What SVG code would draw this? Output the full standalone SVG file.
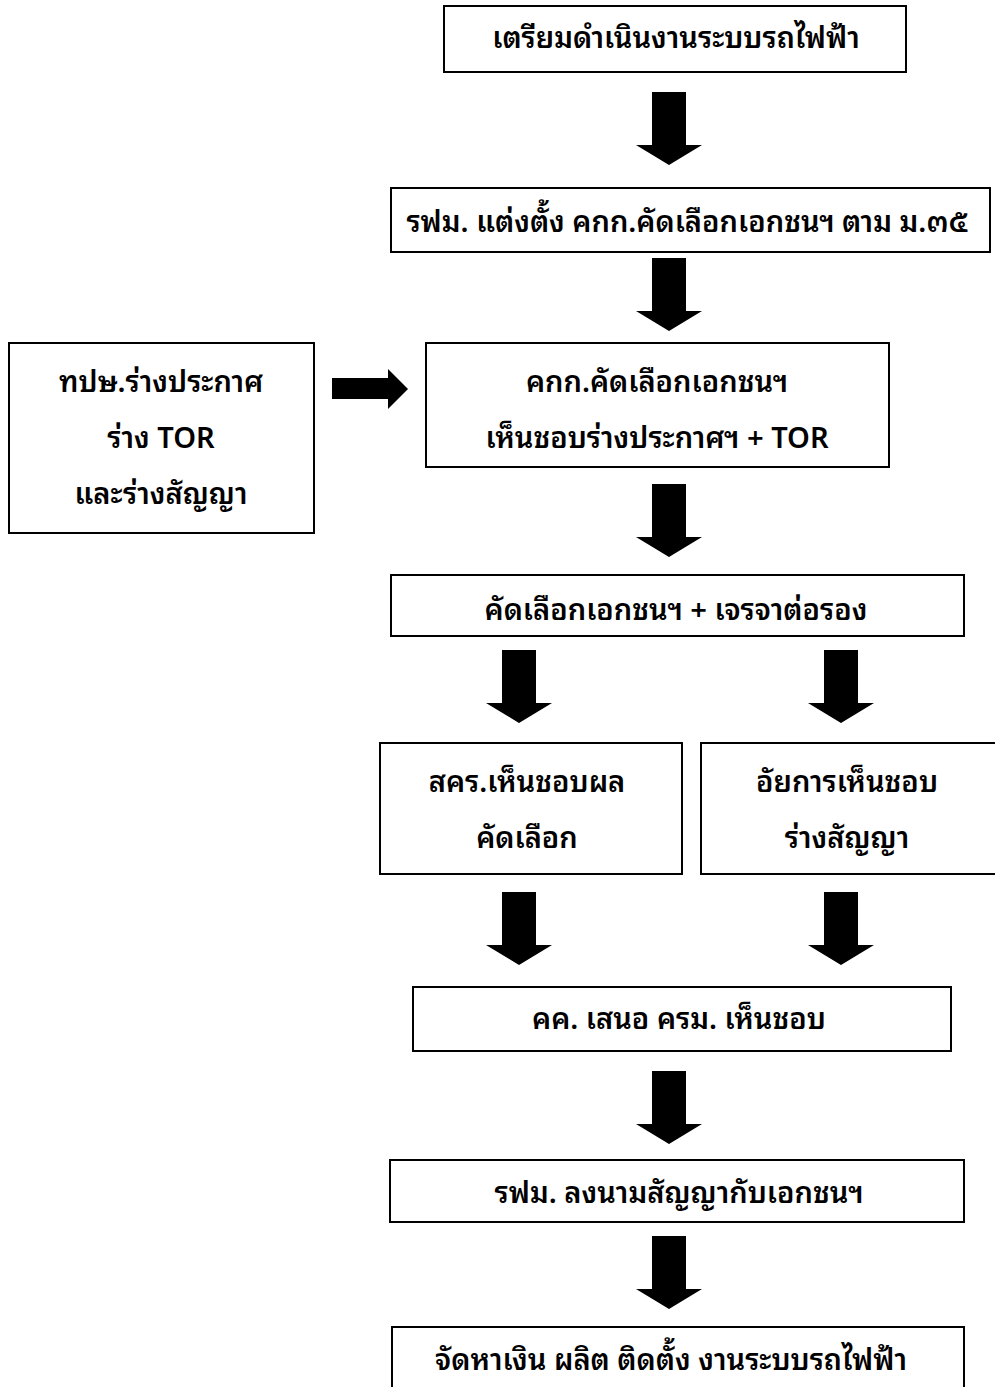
<svg xmlns="http://www.w3.org/2000/svg" xmlns:xlink="http://www.w3.org/1999/xlink" width="995" height="1387" viewBox="0 0 995 1387">
<style>
.box{fill:#fff;stroke:#000;stroke-width:2}
.t{font-family:"Noto Sans Thai Looped","Loma","Garuda","Tahoma","Noto Sans Thai","Noto Sans",sans-serif;font-size:29px;font-weight:600;fill:#000;text-anchor:middle}
.arr{fill:#000}
</style>
<defs>
<path id="down" d="M-17,0 H17 V53 H33 L0,73 L-33,53 H-17 Z"/>
</defs>
<rect width="995" height="1387" fill="#fff"/>
<g id="connectors" class="arr">
<use xlink:href="#down" href="#down" transform="translate(669,92)"/>
<use xlink:href="#down" href="#down" transform="translate(669,258)"/>
<use xlink:href="#down" href="#down" transform="translate(669,484)"/>
<use xlink:href="#down" href="#down" transform="translate(519,650)"/>
<use xlink:href="#down" href="#down" transform="translate(841,650)"/>
<use xlink:href="#down" href="#down" transform="translate(519,892)"/>
<use xlink:href="#down" href="#down" transform="translate(841,892)"/>
<use xlink:href="#down" href="#down" transform="translate(669,1071)"/>
<use xlink:href="#down" href="#down" transform="translate(669,1236)"/>
<path d="M332,378 H388 V369 L408,389 L388,409 V399 H332 Z"/>
</g>
<g id="n1"><rect class="box" x="444" y="6" width="462" height="66"/><text class="t" x="676" y="48">เตรียมดำเนินงานระบบรถไฟฟ้า</text></g>
<g id="n2"><rect class="box" x="391" y="188" width="599" height="64"/><text class="t" x="687" y="232">รฟม. แต่งตั้ง คกก.คัดเลือกเอกชนฯ ตาม ม.๓๕</text></g>
<g id="n3"><rect class="box" x="426" y="343" width="463" height="124"/><text class="t" x="657" y="392">คกก.คัดเลือกเอกชนฯ</text><text class="t" x="657" y="448">เห็นชอบร่างประกาศฯ + TOR</text></g>
<g id="n0"><rect class="box" x="9" y="343" width="305" height="190"/><text class="t" x="161" y="392">ทปษ.ร่างประกาศ</text><text class="t" x="161" y="448">ร่าง TOR</text><text class="t" x="161" y="504">และร่างสัญญา</text></g>
<g id="n4"><rect class="box" x="391" y="575" width="573" height="61"/><text class="t" x="676" y="620">คัดเลือกเอกชนฯ + เจรจาต่อรอง</text></g>
<g id="n5a"><rect class="box" x="380" y="743" width="302" height="131"/><text class="t" x="527" y="792">สคร.เห็นชอบผล</text><text class="t" x="527" y="848">คัดเลือก</text></g>
<g id="n5b"><rect class="box" x="701" y="743" width="310" height="131"/><text class="t" x="847" y="792">อัยการเห็นชอบ</text><text class="t" x="847" y="848">ร่างสัญญา</text></g>
<g id="n6"><rect class="box" x="413" y="987" width="538" height="64"/><text class="t" x="679" y="1029">คค. เสนอ ครม. เห็นชอบ</text></g>
<g id="n7"><rect class="box" x="390" y="1160" width="574" height="62"/><text class="t" x="679" y="1203">รฟม. ลงนามสัญญากับเอกชนฯ</text></g>
<g id="n8"><rect class="box" x="392" y="1327" width="572" height="80"/><text class="t" x="671" y="1370">จัดหาเงิน ผลิต ติดตั้ง งานระบบรถไฟฟ้า</text></g>
</svg>
